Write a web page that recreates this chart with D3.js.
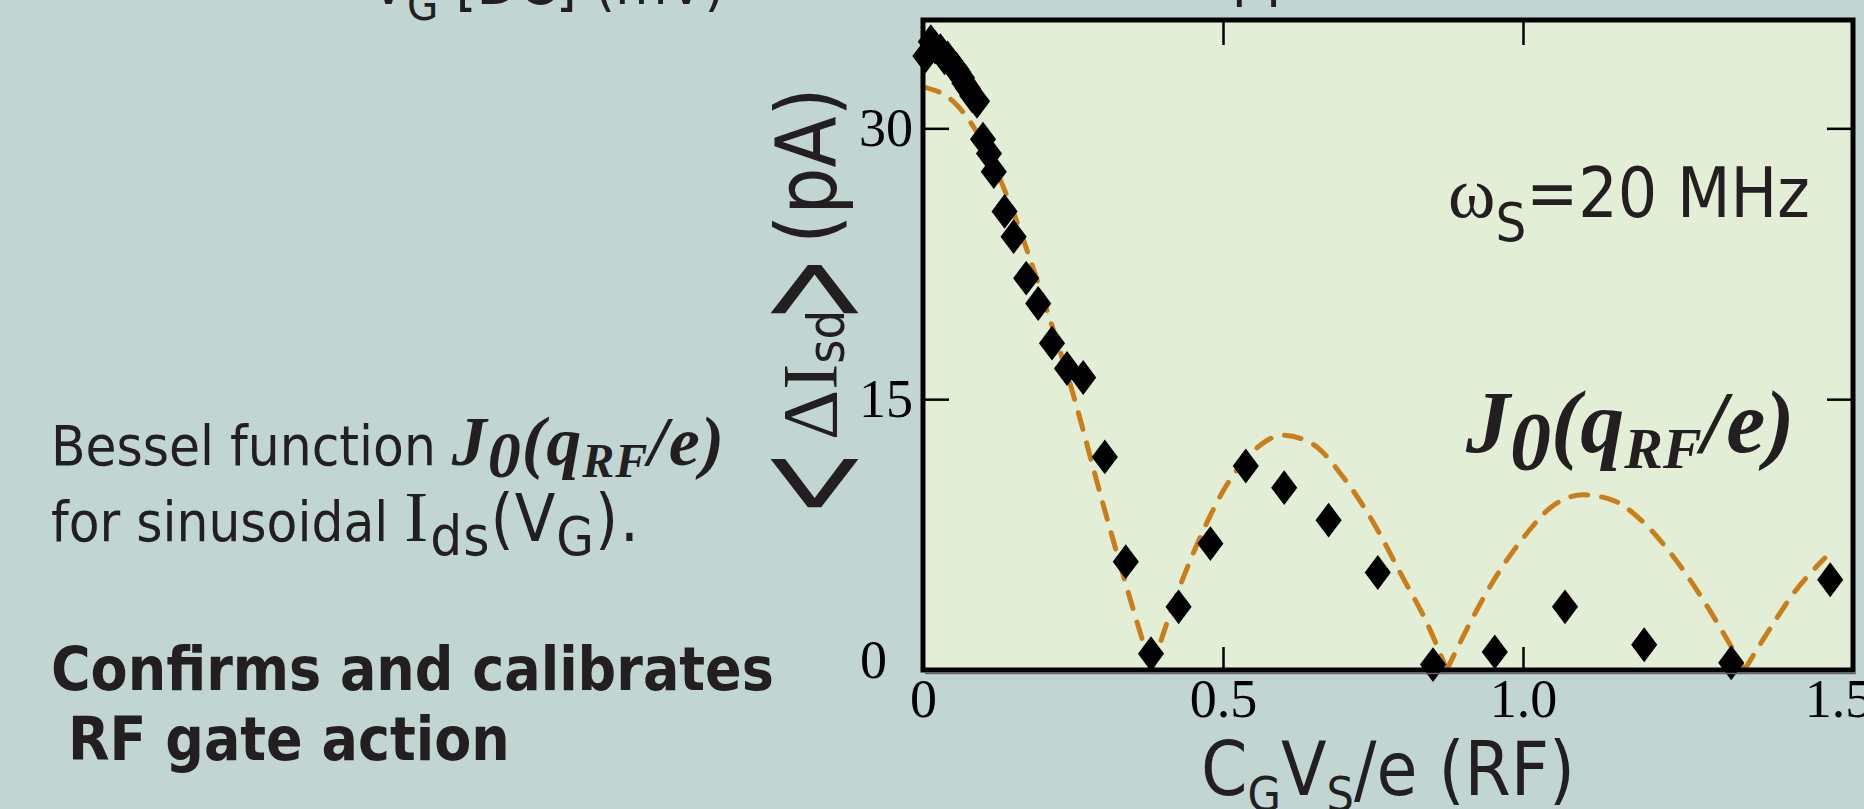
<!DOCTYPE html>
<html><head><meta charset="utf-8">
<script src="https://cdn.jsdelivr.net/npm/d3@7/dist/d3.min.js"></script>
<style>
html,body{margin:0;padding:0;background:#C1D5D3;overflow:hidden;}
svg{display:block;}
</style></head><body>
<svg id="chart" width="1864" height="809"></svg>
<script>
// ---- data ----
const xTickValues = [0, 0.5, 1.0, 1.5];
const xTickLabels = ["0", "0.5", "1.0", "1.5"];
const xTickMarks = [0.5, 1.0];
const yTickValues = [0, 15, 30];
const yTickLabels = ["0", "15", "30"];
const yTickMarks = [15, 30];

// measured points <ΔIsd> (pA) vs CG VS / e
const dataX = [0.004, 0.013, 0.020, 0.029, 0.036, 0.041, 0.049, 0.055, 0.059, 0.065, 0.069, 0.075, 0.082, 0.090,
               0.100, 0.110, 0.118, 0.136, 0.151, 0.172, 0.192, 0.215, 0.240, 0.267, 0.303, 0.338, 0.380,
               0.426, 0.479, 0.538, 0.602, 0.676, 0.758, 0.850, 0.953, 1.070, 1.202, 1.347, 1.512];
const dataY = [34.0, 34.8, 34.5, 34.3, 33.9, 33.9, 33.5, 33.3, 33.1, 32.8, 32.5, 32.2, 31.8, 31.5,
               29.4, 28.6, 27.6, 25.4, 24.0, 21.7, 20.3, 18.1, 16.7, 16.2, 11.8, 6.0, 0.9,
               3.5, 7.0, 11.3, 10.1, 8.3, 5.4, 0.3, 1.0, 3.5, 1.4, 0.4, 5.0];

// dashed J0 curve
const fitX = [0, 0.05, 0.10, 0.15, 0.20, 0.25, 0.30, 0.35, 0.381,
              0.42, 0.46, 0.50, 0.55, 0.60, 0.65, 0.70, 0.75, 0.80, 0.84, 0.873,
              0.91, 0.95, 1.00, 1.05, 1.10, 1.15, 1.20, 1.25, 1.30, 1.34, 1.369,
              1.41, 1.45, 1.503];
const fitY = [32.3, 31.5, 29.2, 25.4, 20.6, 15.3, 9.2, 3.4, 0,
              3.9, 7.2, 9.9, 12.1, 13.0, 12.5, 10.7, 8.2, 5.1, 2.6, 0,
              2.5, 4.9, 7.3, 9.1, 9.7, 9.4, 8.2, 6.3, 3.9, 1.7, 0,
              2.2, 4.2, 6.2];

// ---- drawing ----
const SANS = '"DejaVu Sans Condensed","DejaVu Sans",sans-serif';
const SERIF = '"Liberation Serif","Times New Roman",serif';
const INK = "#231F20";

const svg = d3.select("#chart");
svg.append("rect").attr("width", 1864).attr("height", 809).attr("fill", "#C1D5D3");

const x = d3.scaleLinear().domain([0, 1.55]).range([923, 1853]);
const y = d3.scaleLinear().domain([0, 36]).range([670, 20]);

// plot area
svg.append("rect").attr("x", x(0)).attr("y", y(36)).attr("width", x(1.55) - x(0)).attr("height", y(0) - y(36))
  .attr("fill", "#E2EED6");

// dashed curve, split into lobes at its zeros
const lobes = []; let cur = [];
fitX.forEach((xv, i) => {
  cur.push([xv, fitY[i]]);
  if (fitY[i] === 0 && cur.length > 1) { lobes.push(cur); cur = [[xv, 0]]; }
});
if (cur.length > 1) lobes.push(cur);
const line = d3.line().x(d => x(d[0])).y(d => y(d[1])).curve(d3.curveMonotoneX);
svg.append("path").attr("d", lobes.map(l => line(l)).join(""))
  .attr("fill", "none").attr("stroke", "#CB7E18").attr("stroke-width", 5)
  .attr("stroke-linecap", "round")
  .attr("stroke-dasharray", "17,14");

// diamonds
const sym = d3.symbol().type(d3.symbolDiamond).size(350);
svg.append("g").selectAll("path").data(dataX.map((v, i) => [v, dataY[i]])).join("path")
  .attr("d", sym()).attr("fill", "#000")
  .attr("transform", d => `translate(${x(d[0])},${y(d[1])}) scale(1.3,1)`);

// frame
svg.append("rect").attr("x", x(0)).attr("y", y(36)).attr("width", x(1.55) - x(0)).attr("height", y(0) - y(36))
  .attr("fill", "none").attr("stroke", "#000").attr("stroke-width", 5);
svg.append("line").attr("x1", x(0) + 2).attr("x2", x(1.55) + 3).attr("y1", y(0) + 3.5).attr("y2", y(0) + 3.5)
  .attr("stroke", "#666").attr("stroke-width", 1.5);

// tick marks (inward, all four sides)
function styleTicks(g) { g.select(".domain").remove(); g.selectAll("line").attr("stroke", "#000").attr("stroke-width", 2.5); }
svg.append("g").attr("transform", `translate(0,${y(0)})`).call(d3.axisBottom(x).tickValues(xTickMarks).tickSize(-23).tickFormat("")).call(styleTicks);
svg.append("g").attr("transform", `translate(0,${y(36)})`).call(d3.axisTop(x).tickValues(xTickMarks).tickSize(-25).tickFormat("")).call(styleTicks);
svg.append("g").attr("transform", `translate(${x(0)},0)`).call(d3.axisLeft(y).tickValues(yTickMarks).tickSize(-26).tickFormat("")).call(styleTicks);
svg.append("g").attr("transform", `translate(${x(1.55)},0)`).call(d3.axisRight(y).tickValues(yTickMarks).tickSize(-26).tickFormat("")).call(styleTicks);

// tick labels
const gxl = svg.append("g").attr("transform", `translate(0,${y(0)})`)
  .call(d3.axisBottom(x).tickValues(xTickValues).tickFormat((d, i) => xTickLabels[i]).tickSize(0).tickPadding(9));
gxl.select(".domain").remove();
gxl.selectAll("text").attr("font-family", SERIF).attr("font-size", 54).attr("fill", "#000");
gxl.selectAll(".tick").filter(d => d === 1.5).select("text").attr("transform", "translate(15,0)");

const gyl = svg.append("g").attr("transform", `translate(${x(0)},0)`)
  .call(d3.axisLeft(y).tickValues(yTickValues).tickFormat((d, i) => yTickLabels[i]).tickSize(0).tickPadding(10));
gyl.select(".domain").remove();
gyl.selectAll("text").attr("font-family", SERIF).attr("font-size", 54).attr("fill", "#000");
gyl.selectAll(".tick").filter(d => d === 0).select("text").attr("transform", "translate(-26,-10)");

// rich text helper
function rich(parent, px, py, parts, attrs) {
  const t = parent.append("text").attr("x", px).attr("y", py).attr("fill", INK);
  if (attrs) Object.entries(attrs).forEach(([k, v]) => t.attr(k, v));
  parts.forEach(p => {
    const s = t.append("tspan").text(p.t)
      .attr("font-family", p.f || SANS).attr("font-size", p.s || 60);
    if (!p.f || p.f === SANS) s.attr("font-stretch", "condensed");
    if (p.w) s.attr("font-weight", p.w);
    if (p.i) s.attr("font-style", "italic");
    if (p.ls) s.attr("letter-spacing", p.ls);
    if (p.dy) s.attr("dy", p.dy);
  });
  return t;
}

// cut-off texts at the top
rich(svg, 370, 4, [{t: "V"}, {t: "G", s: 45, dy: 16}, {t: " [DC] (mV)", dy: -16}]);
rich(svg, 1232, -6, [{t: "pp"}]);

// left explanatory text
rich(svg, 51, 465, [
  {t: "Bessel function ", s: 56},
  {t: "J", f: SERIF, s: 70, w: "bold", i: 1, ls: 1},
  {t: "0", f: SERIF, s: 66, w: "bold", i: 1, dy: 12, ls: 1},
  {t: "(q", f: SERIF, s: 70, w: "bold", i: 1, dy: -12, ls: 1},
  {t: "RF", f: SERIF, s: 48, w: "bold", i: 1, dy: 12, ls: 1},
  {t: "/e)", f: SERIF, s: 70, w: "bold", i: 1, dy: -12, ls: 1}
]);
rich(svg, 51, 541, [
  {t: "for sinusoidal ", s: 56},
  {t: "I", f: SERIF, s: 72, ls: 2},
  {t: "ds", s: 56, dy: 14, ls: 1},
  {t: "(V", s: 66, dy: -14, ls: 1},
  {t: "G", s: 54, dy: 14, ls: 1},
  {t: ").", s: 66, dy: -14, ls: 2}
]);
rich(svg, 51, 690, [{t: "Confirms and calibrates", w: "bold"}]);
rich(svg, 68, 760, [{t: "RF gate action", w: "bold"}]);

// in-plot annotations
rich(svg, 1448, 217, [
  {t: "ω", f: SERIF, s: 72},
  {t: "S", s: 54, dy: 24},
  {t: "=20 MHz", s: 69, dy: -24}
]);
rich(svg, 1466, 452, [
  {t: "J", f: SERIF, s: 88, w: "bold", i: 1},
  {t: "0", f: SERIF, s: 82, w: "bold", i: 1, dy: 17},
  {t: "(q", f: SERIF, s: 88, w: "bold", i: 1, dy: -17},
  {t: "RF", f: SERIF, s: 58, w: "bold", i: 1, dy: 16},
  {t: "/e)", f: SERIF, s: 88, w: "bold", i: 1, dy: -16}
]);

// x-axis title
rich(svg, 1201, 795, [
  {t: "C", s: 74},
  {t: "G", s: 48, dy: 16},
  {t: "V", s: 74, dy: -16},
  {t: "S", s: 48, dy: 16},
  {t: "/e (RF)", s: 74, dy: -16}
]);

// y-axis title (rotated)
const yl = svg.append("g").attr("transform", "translate(836,323) rotate(-90)");
function chevron(ch, cx) {
  yl.append("text").attr("transform", `translate(${cx},-30) scale(1.0,1.9)`)
    .attr("text-anchor", "middle").attr("dy", "0.365em")
    .attr("font-family", SANS).attr("font-size", 86).attr("fill", INK).text(ch);
}
chevron("<", -160);
chevron(">", 34);
rich(yl, -117, 0, [
  {t: "ΔI", f: SERIF, s: 78},
  {t: "sd", s: 52, dy: 8}
]);
rich(yl, 79, 0, [{t: "(pA)", s: 83}]);
</script>
</body></html>
